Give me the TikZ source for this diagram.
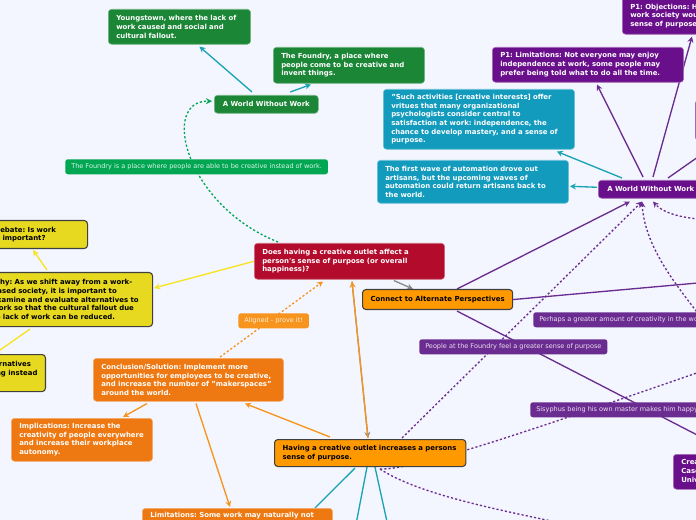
\documentclass[tikz,border=0pt]{standalone}
\usepackage{fontspec}
\setmainfont{DejaVu Sans}
\usetikzlibrary{arrows.meta,calc}

\pgfdeclarelayer{bg}
\pgfdeclarelayer{edges}
\pgfsetlayers{bg,edges,main}

\definecolor{mapbg}{HTML}{F3F6FE}
\definecolor{mmgreen}{HTML}{1B8636}
\definecolor{mmgreenlt}{HTML}{00A651}
\definecolor{mmred}{HTML}{B30B2C}
\definecolor{mmorange}{HTML}{FF9900}
\definecolor{mmorangedk}{HTML}{EE7811}
\definecolor{mmorangelt}{HTML}{F7941D}
\definecolor{mmyellow}{HTML}{E6D91F}
\definecolor{mmyellowln}{HTML}{F7E421}
\definecolor{mmteal}{HTML}{139BBE}
\definecolor{mmtealln}{HTML}{19A4B5}
\definecolor{mmpurple}{HTML}{6A0F8C}
\definecolor{mmpurplelt}{HTML}{6B2C91}
\definecolor{mmgray}{HTML}{8A8A8A}

\tikzset{
  mapbox/.style={rectangle, rounded corners=2.5pt, anchor=north west, align=left,
    inner xsep=6pt, inner ysep=1pt, text=white, line width=0.4pt,
    font=\fontsize{5.2}{6.5}\selectfont\bfseries\frenchspacing},
  boxwh/.style 2 args={minimum width=#1*0.75pt, minimum height=#2*0.75pt},
  boxh/.style={minimum height=#1*0.75pt},
  greenbox/.style={mapbox, fill=mmgreen, draw=mmgreen!60!white},
  redbox/.style={mapbox, fill=mmred, draw=mmred!60!white},
  tealbox/.style={mapbox, fill=mmteal, draw=mmteal!60!white},
  purplebox/.style={mapbox, fill=mmpurple, draw=mmpurple!60!white},
  orangebox/.style={mapbox, fill=mmorangedk, draw=mmorangedk!60!white},
  keybox/.style={mapbox, fill=mmorange, draw=black!75, line width=0.8pt, text=black},
  yellowbox/.style={mapbox, fill=mmyellow, draw=black!75, line width=0.8pt, text=black},
  tagbox/.style={rectangle, rounded corners=2pt, anchor=north west, inner xsep=4.5pt,
    inner ysep=1pt, font=\fontsize{4.9}{5.8}\selectfont\frenchspacing},
  link/.style={line width=1pt},
  arr/.style={-{Stealth[length=4.5pt,width=4.5pt]}},
  dots/.style={dash pattern=on 1.6pt off 1.6pt, line width=1pt},
}

\begin{document}
\begin{tikzpicture}[x=0.75pt,y=0.75pt,yscale=-1,xscale=1]
\useasboundingbox (0,0) rectangle (696,520);
\begin{pgfonlayer}{bg}
\fill[mapbg] (0,0) rectangle (696,520);
\end{pgfonlayer}

% green branch
\node[greenbox, boxh=35, text width=94.75pt] (young) at (108,9) {Youngstown, where the lack of\\work caused and social and\\cultural fallout.};
\node[greenbox, boxh=36, text width=101.5pt] (foundry) at (273,47) {The Foundry, a place where\\people come to be creative and\\invent things.};
\node[greenbox, boxwh={104}{18}, align=center] (wwwg) at (214,95) {A World Without Work};
\node[tagbox, fill=mmgreenlt, text=white!88!mmgreenlt, boxwh={262}{15}] (foundlbl) at (65,159) {The Foundry is a place where people are able to be creative instead of work.};

% central question
\node[redbox, boxh=36, text width=130.75pt] (question) at (254,243) {Does having a creative outlet affect a\\person\textquotesingle s sense of purpose (or overall\\happiness)?};
\node[keybox, boxwh={150}{20}, align=center] (connect) at (362,289) {Connect to Alternate Perspectives};

% yellow branch
\node[yellowbox, boxwh={101}{28}, text width=63.75pt] (debate) at (-14,220) {Debate: Is work\\it important?};
\node[yellowbox, boxwh={168}{54}, text width=114pt] (why) at (-16,272) {Why: As we shift away from a work-\\based society, it is important to\\examine and evaluate alternatives to\\work so that the cultural fallout due\\to lack of work can be reduced.};
\node[yellowbox, boxh=37, anchor=north east] (alt) at (46,354) {Alternatives\\Doing instead\\art.};

% orange branch
\node[tagbox, fill=mmorangelt, text=white!85!mmorangelt, boxwh={69}{15}] (aligned) at (238,313) {Aligned - prove it!};
\node[orangebox, boxh=43, text width=130.75pt] (concl) at (93,358) {Conclusion/Solution: Implement more\\opportunities for employees to be creative,\\and increase the number of "makerspaces"\\around the world.};
\node[orangebox, boxh=43, text width=94pt] (impl) at (11,418) {Implications: Increase the\\creativity of people everywhere\\and increase their workplace\\autonomy.};
\node[keybox, boxh=27, text width=131.5pt] (having) at (274,439) {Having a creative outlet increases a persons\\sense of purpose.};
\node[orangebox, inner ysep=3pt, text width=130.75pt] (limit) at (142,508) {Limitations: Some work may naturally not\\be creative.};

% teal and purple branch
\node[tealbox, boxh=60, text width=131.5pt] (such) at (383,89) {"Such activities [creative interests] offer\\vritues that many organizational\\psychologists consider central to\\satisfaction at work: independence, the\\chance to develop mastery, and a sense of\\purpose.};
\node[tealbox, boxh=43, text width=131.5pt] (firstwave) at (377,160) {The first wave of automation drove out\\artisans, but the upcoming waves of\\automation could return artisans back to\\the world.};
\node[purplebox, boxh=35, text width=131.5pt] (p1lim) at (492,47) {P1: Limitations: Not everyone may enjoy\\independence at work, some people may\\prefer being told what to do all the time.};
\node[purplebox, boxh=37, text width=131.5pt] (p1obj) at (622,-3) {P1: Objections: How would a non-\\work society would provide a\\sense of purpose?};
\node[purplebox, boxwh={105}{18}] (wwwp) at (598,180) {A World Without Work};
\node[purplebox, boxwh={100}{40}] (sidebox) at (695,100) {};
\node[tagbox, fill=mmpurplelt, text=white!85!mmpurplelt, boxh=15] (perhaps) at (533,312) {Perhaps a greater amount of creativity in the workplace};
\node[tagbox, fill=mmpurplelt, text=white!85!mmpurplelt, boxwh={186}{15}] (people) at (419,339) {People at the Foundry feel a greater sense of purpose};
\node[tagbox, fill=mmpurplelt, text=white!85!mmpurplelt, boxh=15] (sisyphus) at (530,402) {Sisyphus being his own master makes him happy};
\node[purplebox, boxh=35, text width=131.5pt] (crea) at (673,454) {Creativity in the Workplace\\Case Western Reserve\\University};

% free ends outside the view
\coordinate (offr) at (720,281);
\coordinate (offb) at (715,335);
\coordinate (offc) at (720,220);
\coordinate (offd) at (720,365);
\coordinate (offe) at (570,525);
\coordinate (below1) at (353,540);
\coordinate (below2) at (391,540);

\begin{pgfonlayer}{edges}
% green
\draw[link, mmtealln, arr] ($(wwwg.north west)+(38,-3)$) -- ($(young.south)+(20,2)$);
\draw[link, mmtealln, arr] ($(wwwg.north)+(24,-3)$) -- ($(foundry.south)+(-38,1)$);
\draw[dots, mmgreenlt, arr] ($(question.north west)+(24,-1)$) .. controls (185,205) and (160,100) .. ($(wwwg.west)+(-2,-3)$);
% yellow
\draw[link, mmyellowln, arr] (question.west) -- ($(why.north east)+(1,16)$);
\draw[link, mmyellowln, arr] ($(why.north west)+(63,-2)$) -- ($(debate.south)+(-4,1)$);
\draw[link, mmyellowln, arr] ($(why.south west)+(46,2)$) -- ($(alt.north)+(-16,0)$);
% gray and orange
\draw[link, mmgray, arr] ($(question.south east)+(-51,1)$) -- ($(connect.north west)+(51,0)$);
\draw[link, mmgray, arr] ($(question.south west)+(98,2)$) -- ($(having.north west)+(94,-1)$);
\draw[link, mmorangelt, arr] ($(having.north west)+(94,-1)$) -- ($(question.south west)+(98,2)$);
\draw[dots, mmorangelt, arr] ($(concl.north west)+(127,-1)$) -- ($(question.south west)+(69,2)$);
\draw[link, mmorangelt, arr] ($(having.north west)+(56,-2)$) -- ($(concl.south west)+(152,2)$);
\draw[link, mmorangelt, arr] ($(concl.south west)+(54,2)$) -- ($(impl.north west)+(112,-1)$);
\draw[link, mmorangelt, arr] ($(concl.south west)+(103,2)$) -- ($(limit.north west)+(88,-1)$);
% teal from having
\draw[link, mmtealln] ($(having.south west)+(81,1)$) -- ($(limit.north west)+(173,0)$);
\draw[link, mmtealln] ($(having.south west)+(93,0)$) -- (below1);
\draw[link, mmtealln] ($(having.south west)+(101,0)$) -- (below2);
% purple
\draw[dots, mmpurplelt, arr] ($(having.north west)+(128,-1)$) -- ($(wwwp.south west)+(44,3)$);
\draw[dots, mmpurplelt, arr] (offb) .. controls (680,290) and (645,250) .. ($(wwwp.south west)+(44,3)$);
\draw[dots, mmpurplelt, arr] (offc) .. controls (690,220) and (665,215) .. ($(wwwp.south west)+(55,3)$);
\draw[dots, mmpurplelt] ($(having.south west)+(106,2)$) .. controls (420,470) and (560,420) .. (offd);
\draw[dots, mmpurplelt] ($(having.south west)+(106,2)$) .. controls (420,495) and (500,510) .. (offe);
\draw[link, mmpurplelt, arr] ($(connect.north west)+(95,0)$) -- ($(wwwp.south west)+(32,3)$);
\draw[link, mmpurplelt] (connect.east) -- (offr);
\draw[link, mmpurplelt, arr] ($(connect.south west)+(95,1)$) -- ($(crea.north west)+(61,0)$);
\draw[link, mmpurplelt, arr] ($(wwwp.north west)+(45,-3)$) -- ($(p1lim.south west)+(105,2)$);
\draw[link, mmpurplelt, arr] ($(wwwp.north west)+(55,-3)$) -- ($(p1obj.south west)+(70,2)$);
\draw[link, mmpurplelt, arr] ($(wwwp.north west)+(70,-2)$) -- ($(sidebox.south west)+(25,1)$);
\draw[link, mmtealln, arr] ($(wwwp.north west)+(24,-2)$) -- ($(such.south east)+(-18,2)$);
\draw[link, mmtealln, arr] ($(wwwp.west)+(-1,-2)$) -- ($(firstwave.east)+(1,4.5)$);
\end{pgfonlayer}

\end{tikzpicture}
\end{document}
